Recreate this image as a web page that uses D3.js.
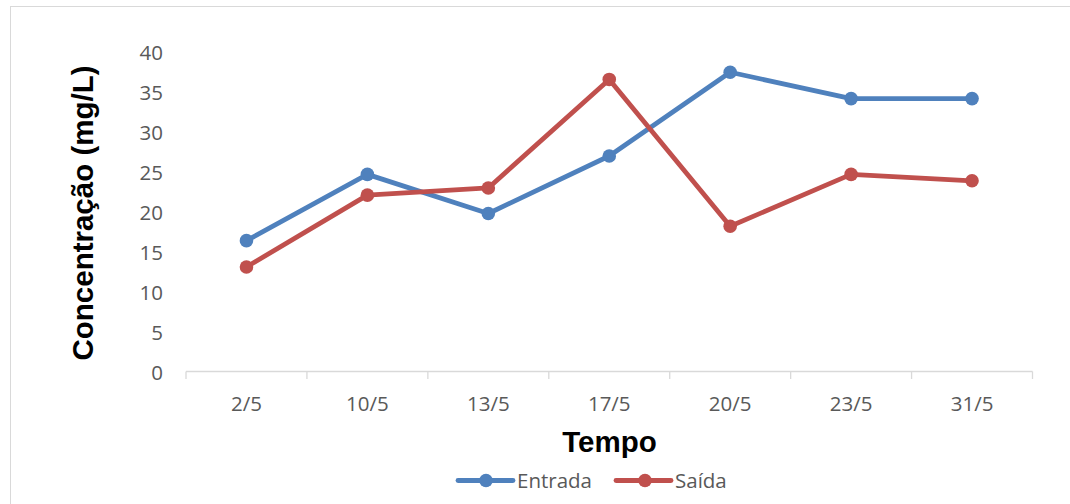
<!DOCTYPE html>
<html><head><meta charset="utf-8">
<script src="https://cdn.jsdelivr.net/npm/d3@7"></script>
<style>body{margin:0;background:#fff;}svg{display:block;}</style>
</head><body>
<script>
const categories = ["2/5","10/5","13/5","17/5","20/5","23/5","31/5"];
const entrada = [16.4, 24.7, 19.8, 27.0, 37.5, 34.2, 34.2];
const saida = [13.1, 22.1, 23.0, 36.6, 18.2, 24.7, 23.9];
const yTicks = [0,5,10,15,20,25,30,35,40];
const seriesNames = ["Entrada","Saída"];
const colors = ["#4F81BD","#C0504D"];

const W=1070,H=504;
const svg=d3.select("body").append("svg").attr("width",W).attr("height",H);
svg.append("rect").attr("x",10.5).attr("y",6.5).attr("width",1080).attr("height",520)
  .attr("fill","#fff").attr("stroke","#d9d9d9").attr("stroke-width",1);

const x=d3.scaleBand().domain(categories).range([186,1032.5]);
const y=d3.scaleLinear().domain([0,40]).range([371.5,52.3]);

// x axis
const g=svg.append("g");
g.append("line").attr("x1",186).attr("x2",1032.5).attr("y1",371.5).attr("y2",371.5).attr("stroke","#d9d9d9").attr("stroke-width",1.3);
const bounds = categories.map(c=>x(c)).concat([x.range()[1]]);
g.selectAll("line.tk").data(bounds).enter().append("line").attr("class","tk")
  .attr("x1",d=>d).attr("x2",d=>d).attr("y1",371.5).attr("y2",379).attr("stroke","#d9d9d9").attr("stroke-width",1.3);
g.selectAll("text.xl").data(categories).enter().append("text").attr("class","xl")
  .attr("x",d=>x(d)+x.bandwidth()/2).attr("y",411).attr("text-anchor","middle")
  .attr("font-family","Open Sans, sans-serif").attr("font-size",20.5).attr("fill","#595959").text(d=>d);
g.selectAll("text.yl").data(yTicks).enter().append("text").attr("class","yl")
  .attr("x",163).attr("y",d=>y(d)+8).attr("text-anchor","end")
  .attr("font-family","Open Sans, sans-serif").attr("font-size",20.5).attr("fill","#595959").text(d=>d);

// titles
svg.append("text").attr("transform","translate(93,213) rotate(-90)").attr("text-anchor","middle")
  .attr("font-family","Liberation Sans, Arial, sans-serif").attr("font-weight","bold").attr("font-size",29.5).attr("fill","#000")
  .text("Concentração (mg/L)");
svg.append("text").attr("x",609.5).attr("y",452).attr("text-anchor","middle")
  .attr("font-family","Liberation Sans, Arial, sans-serif").attr("font-weight","bold").attr("font-size",29.5).attr("fill","#000")
  .text("Tempo");

// series
const line=d3.line().x((d,i)=>x(categories[i])+x.bandwidth()/2).y(d=>y(d));
[entrada,saida].forEach((s,k)=>{
  svg.append("path").datum(s).attr("d",line).attr("fill","none").attr("stroke",colors[k])
    .attr("stroke-width",4.8).attr("stroke-linejoin","round");
  svg.selectAll("circle.s"+k).data(s).enter().append("circle").attr("class","s"+k)
    .attr("cx",(d,i)=>x(categories[i])+x.bandwidth()/2).attr("cy",d=>y(d)).attr("r",6.8).attr("fill",colors[k]);
});

// legend
const leg=[{x1:458,x2:513,cx:486,tx:517},{x1:616,x2:671,cx:645,tx:675}];
leg.forEach((l,k)=>{
  svg.append("line").attr("x1",l.x1).attr("x2",l.x2).attr("y1",480.5).attr("y2",480.5).attr("stroke",colors[k]).attr("stroke-width",4.8).attr("stroke-linecap","round");
  svg.append("circle").attr("cx",l.cx).attr("cy",480.5).attr("r",6.8).attr("fill",colors[k]);
  svg.append("text").attr("x",l.tx).attr("y",488).attr("font-family","Open Sans, sans-serif").attr("font-size",20.5).attr("fill","#595959").text(seriesNames[k]);
});
</script>
</body></html>
